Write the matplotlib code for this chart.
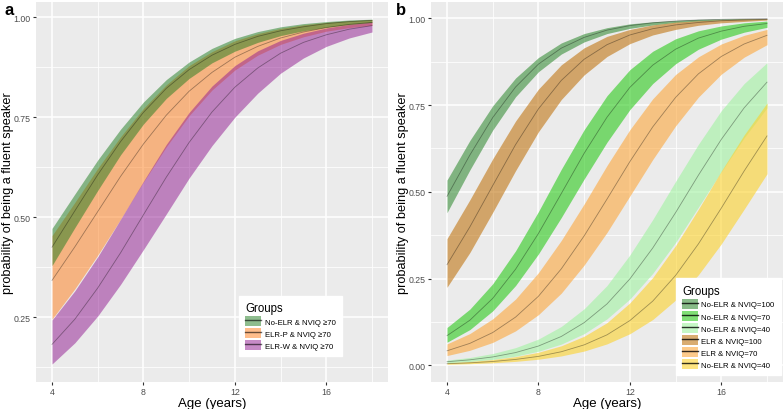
import matplotlib
matplotlib.use('Agg')
import matplotlib.pyplot as plt
from matplotlib.patches import Patch
from matplotlib.lines import Line2D

plt.rcParams['font.family'] = ['Liberation Sans', 'DejaVu Sans']

# ---------------------------------------------------------------
# Datos (edad 4..18)
# ---------------------------------------------------------------
edad = [4, 5, 6, 7, 8, 9, 10, 11, 12, 13, 14, 15, 16, 17, 18]

# Panel a
a_labels = ['No-ELR & NVIQ \u226570', 'ELR-P & NVIQ \u226570', 'ELR-W & NVIQ \u226570']
a_noelr_fit = [0.425, 0.516, 0.606, 0.689, 0.762, 0.822, 0.869, 0.905, 0.932, 0.952, 0.966, 0.976, 0.984, 0.989, 0.992]
a_noelr_lo  = [0.379, 0.474, 0.567, 0.656, 0.733, 0.797, 0.847, 0.886, 0.915, 0.937, 0.954, 0.966, 0.975, 0.982, 0.987]
a_noelr_hi  = [0.472, 0.558, 0.643, 0.720, 0.788, 0.844, 0.888, 0.922, 0.947, 0.964, 0.976, 0.984, 0.989, 0.993, 0.995]
a_elrp_fit  = [0.342, 0.426, 0.514, 0.602, 0.683, 0.755, 0.815, 0.862, 0.900, 0.927, 0.948, 0.963, 0.974, 0.982, 0.987]
a_elrp_lo   = [0.245, 0.321, 0.405, 0.495, 0.588, 0.676, 0.754, 0.818, 0.868, 0.905, 0.932, 0.951, 0.965, 0.974, 0.980]
a_elrp_hi   = [0.454, 0.537, 0.622, 0.701, 0.772, 0.831, 0.879, 0.914, 0.941, 0.959, 0.972, 0.981, 0.987, 0.991, 0.994]
a_elrw_fit  = [0.182, 0.245, 0.323, 0.411, 0.506, 0.600, 0.687, 0.763, 0.825, 0.873, 0.910, 0.937, 0.956, 0.970, 0.979]
a_elrw_lo   = [0.133, 0.186, 0.253, 0.332, 0.419, 0.508, 0.598, 0.679, 0.750, 0.810, 0.860, 0.898, 0.927, 0.948, 0.963]
a_elrw_hi   = [0.243, 0.316, 0.401, 0.495, 0.590, 0.682, 0.762, 0.828, 0.879, 0.916, 0.942, 0.960, 0.973, 0.982, 0.988]

# Panel b
b_labels = ['No-ELR & NVIQ=100', 'No-ELR & NVIQ=70', 'No-ELR & NVIQ=40',
            'ELR & NVIQ=100', 'ELR & NVIQ=70', 'No-ELR & NVIQ=40']
b_n100_fit = [0.487, 0.606, 0.714, 0.802, 0.868, 0.914, 0.945, 0.966, 0.979, 0.987, 0.992, 0.995, 0.997, 0.998, 0.999]
b_n100_lo  = [0.440, 0.563, 0.678, 0.774, 0.846, 0.897, 0.932, 0.956, 0.971, 0.981, 0.988, 0.992, 0.995, 0.997, 0.998]
b_n100_hi  = [0.534, 0.648, 0.748, 0.828, 0.887, 0.929, 0.956, 0.973, 0.984, 0.990, 0.994, 0.997, 0.998, 0.999, 0.999]
b_n70_fit  = [0.0855, 0.130, 0.193, 0.277, 0.380, 0.495, 0.611, 0.715, 0.801, 0.865, 0.911, 0.943, 0.963, 0.977, 0.985]
b_n70_lo   = [0.0666, 0.103, 0.157, 0.230, 0.321, 0.426, 0.537, 0.643, 0.737, 0.812, 0.869, 0.911, 0.940, 0.960, 0.974]
b_n70_hi   = [0.109, 0.162, 0.235, 0.330, 0.443, 0.565, 0.679, 0.777, 0.852, 0.905, 0.941, 0.964, 0.978, 0.987, 0.992]
b_n40_fit  = [0.0104, 0.0159, 0.0242, 0.0368, 0.0556, 0.0832, 0.123, 0.177, 0.249, 0.338, 0.440, 0.548, 0.651, 0.742, 0.816]
b_n40_lo   = [0.0071, 0.0111, 0.0172, 0.0265, 0.0406, 0.0612, 0.0913, 0.134, 0.191, 0.265, 0.354, 0.456, 0.558, 0.656, 0.742]
b_n40_hi   = [0.0151, 0.0226, 0.0340, 0.0510, 0.0757, 0.112, 0.163, 0.230, 0.318, 0.420, 0.530, 0.637, 0.734, 0.812, 0.872]
b_e100_fit = [0.290, 0.399, 0.518, 0.636, 0.739, 0.821, 0.882, 0.924, 0.952, 0.970, 0.981, 0.988, 0.993, 0.995, 0.997]
b_e100_lo  = [0.225, 0.325, 0.441, 0.561, 0.673, 0.766, 0.837, 0.890, 0.927, 0.952, 0.968, 0.980, 0.987, 0.991, 0.995]
b_e100_hi  = [0.365, 0.477, 0.595, 0.704, 0.796, 0.866, 0.915, 0.948, 0.968, 0.981, 0.989, 0.993, 0.996, 0.998, 0.999]
b_e70_fit  = [0.0419, 0.0633, 0.0945, 0.139, 0.199, 0.278, 0.373, 0.479, 0.587, 0.687, 0.772, 0.840, 0.890, 0.926, 0.951]
b_e70_lo   = [0.0282, 0.0433, 0.066, 0.0993, 0.146, 0.208, 0.289, 0.383, 0.488, 0.593, 0.690, 0.773, 0.839, 0.888, 0.924]
b_e70_hi   = [0.0618, 0.0916, 0.134, 0.191, 0.267, 0.360, 0.465, 0.576, 0.679, 0.768, 0.838, 0.889, 0.926, 0.951, 0.968]
b_e40_fit  = [0.0047, 0.0072, 0.0111, 0.0170, 0.0258, 0.0392, 0.0590, 0.0879, 0.129, 0.185, 0.259, 0.350, 0.453, 0.560, 0.661]
b_e40_lo   = [0.0030, 0.0047, 0.0074, 0.0114, 0.0176, 0.0271, 0.0411, 0.0618, 0.0911, 0.132, 0.188, 0.261, 0.350, 0.450, 0.552]
b_e40_hi   = [0.0074, 0.0111, 0.0166, 0.0251, 0.0377, 0.0563, 0.0839, 0.123, 0.180, 0.253, 0.345, 0.450, 0.560, 0.664, 0.756]

# ---------------------------------------------------------------
# Estilo
# ---------------------------------------------------------------
A_COL = ['#1e7d1e', '#ff7d19', '#911991']
A_ALPHA = 0.5
B_COL = ['#398f39', '#2bca1b', '#a0f3a0', '#c17612', '#fca83c', '#fcd22b']
B_ALPHA = 0.6
GRIS = '#EBEBEB'


def estilo_ggplot(ax, yticks, yminor, ylim):
    ax.set_facecolor(GRIS)
    for s in ax.spines.values():
        s.set_visible(False)
    ax.set_xlim(3.3, 18.7)
    ax.set_ylim(*ylim)
    ax.set_xticks([4, 8, 12, 16])
    ax.set_xticks([6, 10, 14, 18], minor=True)
    ax.set_yticks(yticks)
    ax.set_yticklabels([f'{v:.2f}' for v in yticks])
    ax.set_yticks(yminor, minor=True)
    ax.grid(which='major', color='white', lw=1.1, zorder=0)
    ax.grid(which='minor', color='white', lw=0.55, zorder=0)
    ax.set_axisbelow(True)
    ax.tick_params(which='major', length=2.5, width=0.8, color='#333333',
                   labelsize=6.3, labelcolor='#4D4D4D', pad=1.2)
    ax.tick_params(which='minor', length=0)
    ax.set_xlabel('Age (years)', fontsize=9.5, va='center')
    ax.set_ylabel('probability of being a fluent speaker', fontsize=9.2,
                  va='center')
    ax.xaxis.set_label_coords(0.5, -0.055)
    ax.yaxis.set_label_coords(-0.0795, 0.5)


def leyenda(ax, handles, labels, anchor):
    leg = ax.legend(handles, labels, title='Groups', loc='lower right',
                    bbox_to_anchor=anchor, fontsize=5.6,
                    title_fontsize=8.3, frameon=True, fancybox=False,
                    edgecolor='white', framealpha=1, handlelength=2.0,
                    handleheight=1.5, labelspacing=0.33, borderpad=0.8,
                    handletextpad=0.5, borderaxespad=0)
    leg._legend_box.align = 'left'
    return leg


fig = plt.figure(figsize=(7.83, 4.10), dpi=100)

# ---------------------------------------------------------------
# Panel a
# ---------------------------------------------------------------
ax_a = fig.add_axes([36 / 783, 27 / 410, 352 / 783, 380 / 410])
estilo_ggplot(ax_a, [0.25, 0.50, 0.75, 1.00], [0.125, 0.375, 0.625, 0.875],
              (0.088, 1.038))

series_a = [
    (a_elrp_fit, a_elrp_lo, a_elrp_hi, A_COL[1]),
    (a_elrw_fit, a_elrw_lo, a_elrw_hi, A_COL[2]),
    (a_noelr_fit, a_noelr_lo, a_noelr_hi, A_COL[0]),
]
for fit, lo, hi, col in series_a:
    ax_a.fill_between(edad, lo, hi, color=col, alpha=A_ALPHA, lw=0, zorder=2)
    ax_a.plot(edad, fit, color='black', alpha=0.35, lw=0.6, zorder=3)

handles_a = [(Patch(facecolor=c, alpha=A_ALPHA, lw=0),
              Line2D([], [], color='black', alpha=0.6, lw=1.0)) for c in A_COL]
leyenda(ax_a, handles_a, a_labels, (0.869, 0.068))

# ---------------------------------------------------------------
# Panel b
# ---------------------------------------------------------------
ax_b = fig.add_axes([431 / 783, 27 / 410, 352 / 783, 380 / 410])
estilo_ggplot(ax_b, [0.00, 0.25, 0.50, 0.75, 1.00], [0.125, 0.375, 0.625, 0.875],
              (-0.048, 1.047))

series_b = [
    (b_n100_fit, b_n100_lo, b_n100_hi),
    (b_n70_fit, b_n70_lo, b_n70_hi),
    (b_n40_fit, b_n40_lo, b_n40_hi),
    (b_e100_fit, b_e100_lo, b_e100_hi),
    (b_e70_fit, b_e70_lo, b_e70_hi),
    (b_e40_fit, b_e40_lo, b_e40_hi),
]
for (fit, lo, hi), col in zip(series_b, B_COL):
    ax_b.fill_between(edad, lo, hi, color=col, alpha=B_ALPHA, lw=0, zorder=2)
    ax_b.plot(edad, fit, color='black', alpha=0.35, lw=0.6, zorder=3)

handles_b = [(Patch(facecolor=c, alpha=B_ALPHA, lw=0),
              Line2D([], [], color='black', alpha=0.8, lw=1.0)) for c in B_COL]
leyenda(ax_b, handles_b, b_labels, (0.994, 0.018))

fig.text(0.006, 0.993, 'a', fontsize=12, fontweight='bold', va='top')
fig.text(0.506, 0.993, 'b', fontsize=12, fontweight='bold', va='top')

plt.savefig('out.png', dpi=100, facecolor='white')
